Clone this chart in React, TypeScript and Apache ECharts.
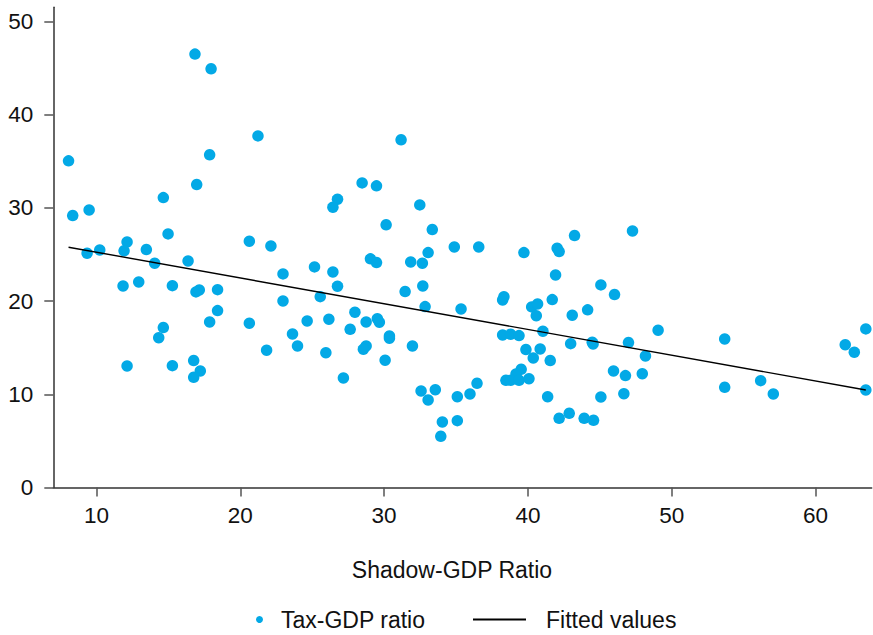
import React, { useEffect, useRef } from "react";
import * as echarts from "echarts";

const shadowGdp = [
  8.06, 8.35, 9.49, 16.85, 17.97, 21.23, 17.87, 16.97, 14.65, 14.98,
  20.63, 22.13, 12.13, 10.23, 11.92, 9.35, 13.47, 14.05, 16.37, 11.85,
  12.94, 15.28, 16.92, 17.15, 18.42, 18.42, 17.87, 20.63, 14.65, 14.33,
  21.83, 12.13, 15.28, 16.76, 17.22, 16.76, 22.97, 22.97, 31.18, 28.47,
  29.47, 26.76, 26.44, 32.48, 30.14, 33.35, 34.88, 36.58, 33.06, 29.05,
  29.47, 31.85, 32.66, 25.16, 26.44, 26.76, 31.46, 32.69, 25.56, 32.85,
  35.35, 24.65, 26.16, 27.97, 28.75, 29.53, 29.67, 27.64, 23.63, 23.98,
  25.95, 28.75, 28.56, 30.37, 30.37, 31.97, 30.07, 27.17, 32.57, 33.56,
  33.06, 35.09, 35.97, 36.46, 34.05, 35.09, 33.94, 39.72, 43.24, 47.27,
  42.03, 42.17, 41.92, 45.07, 46.02, 38.24, 38.33, 41.69, 40.26, 40.67,
  40.58, 43.08, 44.15, 49.05, 38.24, 38.8, 39.38, 41.04, 42.97, 44.47,
  44.53, 46.99, 48.17, 39.86, 40.85, 40.37, 41.55, 45.95, 46.78, 47.95,
  39.53, 39.17, 38.47, 38.8, 39.38, 40.07, 41.37, 45.07, 46.67, 42.17,
  42.87, 43.91, 44.56, 53.68, 53.68, 56.18, 57.06, 62.06, 62.69, 63.49,
  63.49,
];

const taxGdp = [
  35.03, 29.16, 29.77, 46.48, 44.9, 37.71, 35.68, 32.49, 31.09, 27.2,
  26.42, 25.91, 26.34, 25.48, 25.38, 25.13, 25.52, 24.06, 24.3, 21.62,
  22.05, 21.65, 20.98, 21.19, 21.22, 18.97, 17.76, 17.62, 17.15, 16.07,
  14.72, 13.04, 13.07, 13.61, 12.5, 11.82, 22.91, 20.01, 37.29, 32.67,
  32.35, 30.92, 30.06, 30.31, 28.17, 27.66, 25.8, 25.8, 25.19, 24.52,
  24.12, 24.19, 24.06, 23.66, 23.12, 21.59, 21.01, 21.62, 20.47, 19.4,
  19.15, 17.86, 18.05, 18.8, 17.76, 18.11, 17.73, 16.97, 16.47, 15.18,
  14.46, 15.18, 14.83, 16.26, 16.01, 15.18, 13.65, 11.75, 10.35, 10.49,
  9.39, 9.74, 10.03, 11.18, 7.03, 7.17, 5.49, 25.19, 27.02, 27.52,
  25.66, 25.3, 22.8, 21.73, 20.69, 20.12, 20.47, 20.15, 19.37, 19.69,
  18.43, 18.48, 19.05, 16.87, 16.36, 16.44, 16.29, 16.76, 15.43, 15.58,
  15.4, 15.54, 14.11, 14.79, 14.86, 13.89, 13.61, 12.5, 12.0, 12.21,
  12.68, 12.18, 11.5, 11.5, 11.5, 11.67, 9.74, 9.71, 10.06, 7.42,
  7.96, 7.42, 7.21, 15.93, 10.75, 11.46, 10.03, 15.32, 14.51, 17.01,
  10.46,
];

const fittedX = [8.06, 63.49];
const fittedY = [25.77, 10.46];

const xTicks = [10, 20, 30, 40, 50, 60];
const yTicks = [0, 10, 20, 30, 40, 50];

const FONT = "'Liberation Sans', Arial, Helvetica, sans-serif";

export default function App() {
  const ref = useRef<HTMLDivElement>(null);

  useEffect(() => {
    if (!ref.current) return;
    document.body.style.margin = "0";
    const chart = echarts.init(ref.current, null, { renderer: "svg" });
    const scatterData = shadowGdp.map((x, i) => [x, taxGdp[i]]);
    const lineData = fittedX.map((x, i) => [x, fittedY[i]]);

    chart.setOption({
      animation: false,
      backgroundColor: "#ffffff",
      grid: { left: 53.3, right: 1.3, top: 7.3, bottom: 147.5 },
      xAxis: {
        type: "value",
        min: 7,
        max: 63.9,
        splitLine: { show: false },
        axisLine: { show: true, onZero: false, lineStyle: { color: "#333", width: 1.5 } },
        axisTick: {
          show: true,
          length: 9,
          customValues: xTicks,
          lineStyle: { color: "#555", width: 1.5 },
        },
        axisLabel: {
          customValues: xTicks,
          margin: 16,
          fontSize: 22.5,
          fontFamily: FONT,
          color: "#111",
        },
      },
      yAxis: {
        type: "value",
        min: 0,
        max: 51.5,
        splitLine: { show: false },
        axisLine: { show: true, onZero: false, lineStyle: { color: "#333", width: 1.5 } },
        axisTick: {
          show: true,
          length: 9,
          customValues: yTicks,
          lineStyle: { color: "#555", width: 1.5 },
        },
        axisLabel: {
          customValues: yTicks,
          margin: 20,
          fontSize: 22.5,
          fontFamily: FONT,
          color: "#111",
        },
      },
      legend: [
        {
          data: ["Tax-GDP ratio"],
          left: 256,
          top: 608,
          padding: 0,
          itemWidth: 33,
          itemHeight: 7,
          icon: "circle",
          textStyle: { fontSize: 23, fontFamily: FONT, color: "#111" },
        },
        {
          data: ["Fitted values"],
          left: 473,
          top: 608,
          padding: 0,
          itemWidth: 53,
          itemHeight: 2,
          icon: "rect",
          itemStyle: { color: "#000" },
          textStyle: { fontSize: 23, fontFamily: FONT, color: "#111", padding: [0, 0, 0, 15] },
        },
      ],
      graphic: [
        {
          type: "text",
          x: 452,
          y: 570,
          style: {
            text: "Shadow-GDP Ratio",
            fontSize: 23,
            fontFamily: FONT,
            fill: "#111",
            textAlign: "center",
            textVerticalAlign: "middle",
          },
        },
      ],
      series: [
        {
          name: "Tax-GDP ratio",
          type: "scatter",
          data: scatterData,
          symbol: "circle",
          symbolSize: 11.5,
          itemStyle: { color: "#03a9e6", opacity: 1 },
          z: 2,
        },
        {
          name: "Fitted values",
          type: "line",
          data: lineData,
          showSymbol: false,
          symbol: "none",
          lineStyle: { color: "#000", width: 1.4 },
          itemStyle: { color: "#000" },
          z: 3,
        },
      ],
    });
    return () => chart.dispose();
  }, []);

  return <div ref={ref} style={{ width: 873, height: 635 }} />;
}
